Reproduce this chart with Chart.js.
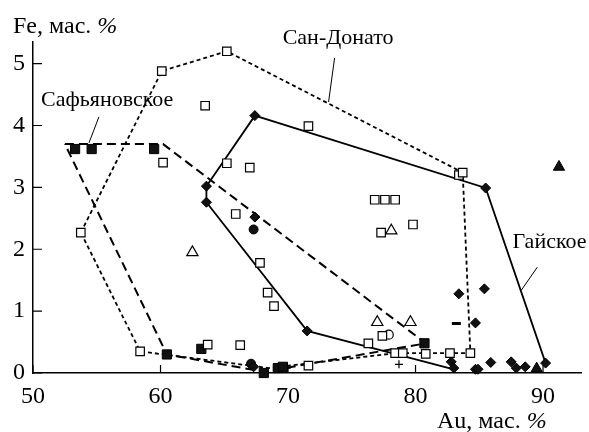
<!DOCTYPE html>
<html><head><meta charset="utf-8">
<script src="https://cdn.jsdelivr.net/npm/chart.js@4"></script>
<style>html,body{margin:0;padding:0;background:#fff}</style>
</head><body>
<canvas id="c" width="589" height="432"></canvas>
<script>
// axis ticks
const xTicks = [50, 60, 70, 80, 90];
const yTicks = [0, 1, 2, 3, 4, 5];

// field outlines (Au, Fe)
const safPoly = [[52.5,3.7],[60.2,3.7],[80.8,0.48],[68.1,0.02],[60.5,0.3],[52.5,3.7]];
const sdPoly  = [[53.75,2.27],[60.1,4.88],[65.2,5.2],[83.7,3.24],[84.3,0.32],[78.4,0.32],[68.5,0.08],[58.4,0.35],[53.75,2.27]];
const gaiPoly = [[83.0,0.06],[71.5,0.68],[63.6,2.76],[63.6,3.02],[67.4,4.16],[85.5,2.99],[90.2,0.16]];

// points
const gaiDiamonds = [[63.6,3.02],[63.6,2.76],[67.4,4.16],[85.5,2.99],[90.2,0.16],[71.5,0.68],[67.4,2.52],
  [83.4,1.28],[85.4,1.36],[84.7,0.81],[82.8,0.18],[83.0,0.08],[84.7,0.06],[84.9,0.06],[85.9,0.17],
  [87.5,0.18],[87.9,0.08],[88.6,0.1],[67.3,0.1]];
const safSquares = [[53.3,3.62],[54.6,3.62],[59.5,3.62],[60.5,0.3],[63.2,0.39],[68.1,0.0],[69.2,0.08],[69.6,0.1],[80.7,0.48]];
const sdSquares = [[53.75,2.27],[58.4,0.35],[60.1,4.88],[65.2,5.2],[63.5,4.32],[60.2,3.4],[65.2,3.39],[67.0,3.32],
  [71.6,3.99],[65.9,2.57],[67.8,1.78],[68.4,1.3],[68.9,1.08],[63.7,0.46],[66.25,0.45],[71.6,0.12],[76.3,0.48],
  [77.4,0.6],[78.4,0.32],[79.0,0.32],[80.8,0.31],[82.7,0.32],[84.3,0.32],[76.8,2.8],[77.6,2.8],[78.4,2.8],
  [77.3,2.27],[79.8,2.4],[83.4,3.2],[83.7,3.24]];
const openTriangles = [[62.5,1.95],[78.1,2.3],[77.0,0.82],[79.6,0.82]];
const filledTriangles = [[89.5,0.07],[91.25,3.33]];
const filledCircles = [[67.3,2.32],[67.1,0.15]];
const openCircles = [[77.9,0.62]];
const dashes = [[83.2,0.8]];
const crosses = [[78.7,0.14],[69.9,0.08]];

// field labels: text, text anchor (left, middle), leader from -> to
const labels = [
  {text:'Сафьяновское', at:[50.63,4.41], from:[55.17,4.14], to:[54.39,3.72]},
  {text:'Сан-Донато', at:[69.58,5.41], from:[73.65,5.09], to:[73.18,4.38]},
  {text:'Гайское', at:[87.6,2.12], from:[89.55,1.71], to:[88.3,1.34]}
];

const xy = a => a.map(p => ({x:p[0], y:p[1]}));
const serif = "'Liberation Serif', 'Times New Roman', 'DejaVu Serif', serif";
Chart.defaults.font.family = serif;
Chart.defaults.color = '#000';

function pts(data, style, r, fill, bw){
  return {data: xy(data), pointStyle: style, pointRadius: r, pointHoverRadius: r,
    backgroundColor: fill, borderColor: '#000', pointBorderWidth: bw || 1.2, showLine: false, clip: false};
}
function outline(data, dash, w){
  return {type:'line', data: xy(data), borderColor:'#000', borderWidth: w, borderDash: dash,
    pointRadius: 0, fill: false, tension: 0, showLine: true, clip: false};
}

const decor = {
  id: 'decor',
  afterDraw(chart){
    const {ctx, scales:{x, y}} = chart;
    ctx.save();
    ctx.strokeStyle = '#000';
    ctx.lineWidth = 1.2;
    ctx.beginPath();
    xTicks.forEach(v => { const px = x.getPixelForValue(v); ctx.moveTo(px, y.bottom); ctx.lineTo(px, y.bottom - 8); });
    yTicks.forEach(v => { const py = y.getPixelForValue(v); ctx.moveTo(x.left, py); ctx.lineTo(x.left + 9, py); });
    ctx.stroke();

    ctx.fillStyle = '#000';
    ctx.textBaseline = 'alphabetic';
    const title = (t, px, py) => {
      ctx.font = '24px ' + serif;
      ctx.fillText(t, px, py);
      const w = ctx.measureText(t).width;
      ctx.font = 'italic 24px ' + serif;
      ctx.fillText('%', px + w, py);
    };
    title('Fe, мас. ', 13, 33);
    title('Au, мас. ', 437, 428);

    ctx.font = '22px ' + serif;
    ctx.textBaseline = 'middle';
    ctx.lineWidth = 1;
    labels.forEach(l => {
      ctx.fillText(l.text, x.getPixelForValue(l.at[0]), y.getPixelForValue(l.at[1]));
      ctx.beginPath();
      ctx.moveTo(x.getPixelForValue(l.from[0]), y.getPixelForValue(l.from[1]));
      ctx.lineTo(x.getPixelForValue(l.to[0]), y.getPixelForValue(l.to[1]));
      ctx.stroke();
    });
    ctx.restore();
  }
};

new Chart(document.getElementById('c'), {
  type: 'scatter',
  data: {datasets: [
    pts(sdSquares, 'rect', 6, '#fff', 1.2),
    pts(openTriangles, 'triangle', 6.5, '#fff', 1.2),
    pts(openCircles, 'circle', 4.5, '#fff', 1.2),
    pts(safSquares, 'rect', 6.5, '#111', 1),
    pts(gaiDiamonds, 'rectRot', 5, '#111', 1),
    pts(filledTriangles, 'triangle', 6.5, '#111', 1),
    pts(filledCircles, 'circle', 4.5, '#111', 1),
    pts(dashes, 'line', 4.5, '#000', 3),
    pts(crosses, 'cross', 4, '#000', 1.2),
    outline(gaiPoly, [], 1.8),
    outline(safPoly, [9, 5], 2),
    outline(sdPoly, [4, 3], 1.8)
  ]},
  options: {
    responsive: false,
    animation: false,
    devicePixelRatio: 1,
    layout: {padding: {top: 42, right: 7, left: 0, bottom: 0}},
    plugins: {legend: {display: false}, tooltip: {enabled: false}},
    events: [],
    scales: {
      x: {
        type: 'linear', min: 50, max: 93,
        afterBuildTicks: s => { s.ticks = xTicks.map(v => ({value: v})); },
        afterFit: s => { s.height = 59; },
        grid: {drawOnChartArea: false, drawTicks: false},
        border: {display: true, color: '#000', width: 1.5},
        ticks: {font: {size: 24}, padding: 9, maxRotation: 0, color: '#000'}
      },
      y: {
        type: 'linear', min: 0, max: 5.35,
        afterBuildTicks: s => { s.ticks = yTicks.map(v => ({value: v})); },
        afterFit: s => { s.width = 33; },
        grid: {drawOnChartArea: false, drawTicks: false},
        border: {display: true, color: '#000', width: 1.5},
        ticks: {font: {size: 24}, padding: 8, color: '#000'}
      }
    }
  },
  plugins: [decor]
});
</script>
</body></html>
